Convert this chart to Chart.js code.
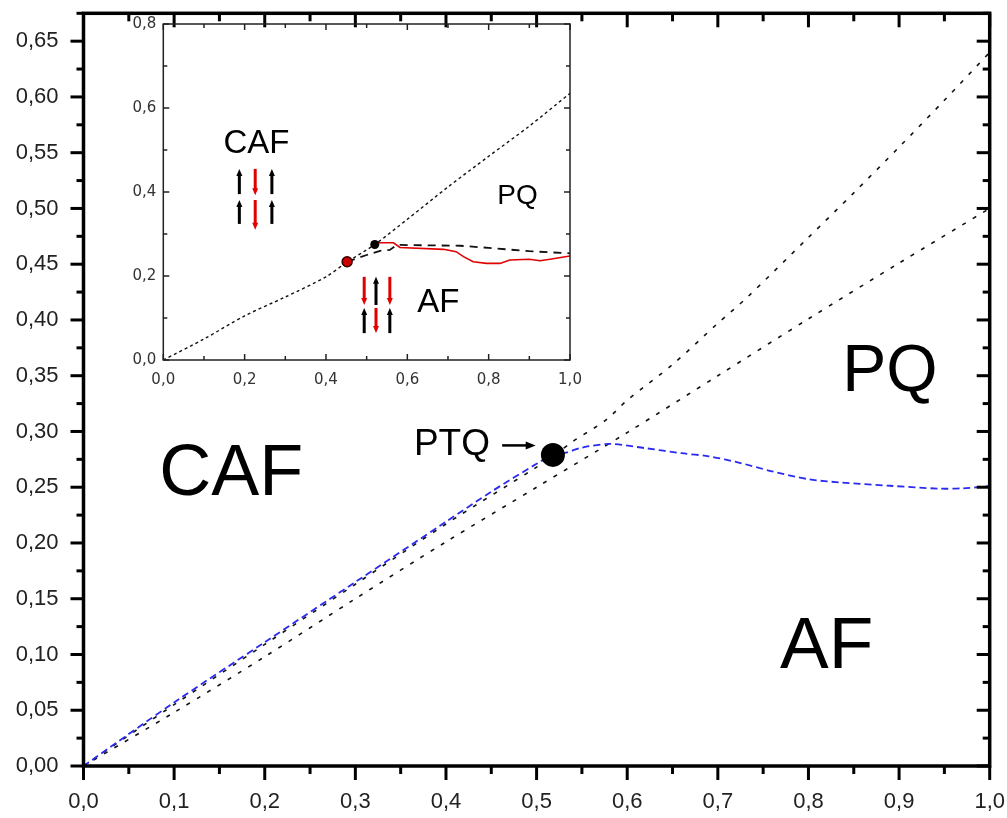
<!DOCTYPE html>
<html><head><meta charset="utf-8">
<script src="https://cdn.jsdelivr.net/npm/chart.js@4/dist/chart.umd.min.js"></script>
<style>
html,body{margin:0;padding:0;background:#fff;}
#wrap{position:relative;width:1007px;height:818px;overflow:hidden;}
#main{position:absolute;left:0;top:0;}
#inset{position:absolute;left:110px;top:14px;}
</style></head><body>
<div id="wrap"><canvas id="main" width="1007" height="818"></canvas><canvas id="inset" width="480" height="386"></canvas></div>
<script>
// ---------------- data: main chart ----------------
const mainXTickValues = [0, 0.1, 0.2, 0.3, 0.4, 0.5, 0.6, 0.7, 0.8, 0.9, 1.0];
const mainXTickLabels = ['0,0','0,1','0,2','0,3','0,4','0,5','0,6','0,7','0,8','0,9','1,0'];
const mainXMinor = [0.05, 0.15, 0.25, 0.35, 0.45, 0.55, 0.65, 0.75, 0.85, 0.95];
const mainYTickValues = [0, 0.05, 0.10, 0.15, 0.20, 0.25, 0.30, 0.35, 0.40, 0.45, 0.50, 0.55, 0.60, 0.65];
const mainYTickLabels = ['0,00','0,05','0,10','0,15','0,20','0,25','0,30','0,35','0,40','0,45','0,50','0,55','0,60','0,65'];
const mainYMinor = [0.025, 0.075, 0.125, 0.175, 0.225, 0.275, 0.325, 0.375, 0.425, 0.475, 0.525, 0.575, 0.625, 0.675];

// upper black dashed boundary (CAF / PQ)
const upperX = [0, 0.1, 0.2, 0.3, 0.4, 0.5, 0.52, 0.54, 0.577, 0.6, 0.65, 0.7, 0.732, 0.8, 0.85, 0.9, 0.95, 1.0];
const upperY = [0, 0.055, 0.109, 0.163, 0.217, 0.268, 0.279, 0.291, 0.3106, 0.328, 0.360, 0.397, 0.420, 0.474, 0.514, 0.555, 0.597, 0.640];
// lower black dashed line
const lowerX = [0, 0.1, 0.2, 0.3, 0.4, 0.5, 0.6, 0.7, 0.8, 0.9, 1.0];
const lowerY = [0, 0.048, 0.098, 0.150, 0.201, 0.250, 0.299, 0.350, 0.401, 0.451, 0.500];
// blue dashed boundary
const blueX = [0, 0.1, 0.2, 0.3, 0.4, 0.45, 0.5, 0.52, 0.531, 0.55, 0.581, 0.62, 0.66, 0.69, 0.725, 0.76, 0.8, 0.835, 0.89, 0.945, 0.97, 1.0];
const blueY = [0, 0.057, 0.111, 0.165, 0.219, 0.246, 0.271, 0.280, 0.2807, 0.2855, 0.2888, 0.285, 0.2805, 0.2777, 0.2717, 0.2642, 0.2572, 0.2543, 0.2513, 0.2487, 0.249, 0.251];
// PTQ point
const ptqX = [0.518];
const ptqY = [0.279];
// main annotations (text anchor: centre x, baseline y)
const mainTexts = ['CAF', 'PQ', 'AF', 'PTQ'];
const mainTextX = [0.163, 0.890, 0.820, 0.4066];
const mainTextY = [0.2433, 0.3366, 0.088, 0.279];
// PTQ pointer arrow (from -> to)
const ptqArrowX = [0.462, 0.499];
const ptqArrowY = [0.2875, 0.2875];

// ---------------- data: inset ----------------
const insetXTickValues = [0, 0.2, 0.4, 0.6, 0.8, 1.0];
const insetXTickLabels = ['0,0','0,2','0,4','0,6','0,8','1,0'];
const insetXMinor = [0.1, 0.3, 0.5, 0.7, 0.9];
const insetYTickValues = [0, 0.2, 0.4, 0.6, 0.8];
const insetYTickLabels = ['0,0','0,2','0,4','0,6','0,8'];
const insetYMinor = [0.1, 0.3, 0.5, 0.7];

const insetUpperX = [0, 0.1, 0.2, 0.3, 0.4, 0.45, 0.52, 0.6, 0.7, 0.8, 0.9, 1.0];
const insetUpperY = [0, 0.050, 0.105, 0.150, 0.198, 0.232, 0.275, 0.335, 0.412, 0.485, 0.557, 0.635];
const insetLowerX = [0.452, 0.50, 0.533, 0.557, 0.574, 0.65, 0.73, 0.80, 0.85, 0.90, 0.96, 1.0];
const insetLowerY = [0.234, 0.250, 0.260, 0.262, 0.274, 0.273, 0.272, 0.267, 0.263, 0.259, 0.256, 0.254];
const insetRedX = [0.52, 0.525, 0.566, 0.582, 0.689, 0.72, 0.738, 0.762, 0.795, 0.828, 0.852, 0.90, 0.926, 0.951, 1.0];
const insetRedY = [0.275, 0.279, 0.279, 0.268, 0.2635, 0.258, 0.246, 0.234, 0.230, 0.230, 0.238, 0.240, 0.2365, 0.240, 0.2476];
const insetBlackDotX = [0.52];
const insetBlackDotY = [0.275];
const insetRedDotX = [0.452];
const insetRedDotY = [0.234];
const insetTexts = ['CAF', 'PQ', 'AF'];
const insetTextX = [0.229, 0.871, 0.676];
const insetTextY = [0.492, 0.371, 0.115];
// spin arrows: x, bottom y, top y, direction (1 up, -1 down)
const spinX   = [0.187, 0.226, 0.267, 0.187, 0.226, 0.267, 0.494, 0.523, 0.557, 0.494, 0.523, 0.557];
const spinYLo = [0.395, 0.392, 0.395, 0.324, 0.310, 0.324, 0.131, 0.131, 0.131, 0.064, 0.064, 0.064];
const spinYHi = [0.455, 0.455, 0.455, 0.381, 0.381, 0.381, 0.198, 0.198, 0.198, 0.124, 0.124, 0.124];
const spinDir = [1, -1, 1, 1, -1, 1, -1, 1, -1, 1, -1, 1];

// ---------------- helpers ----------------
const zip = (xs, ys) => xs.map((v, i) => ({x: v, y: ys[i]}));
const noPad = s => { s.paddingTop = 0; s.paddingBottom = 0; s.paddingLeft = 0; s.paddingRight = 0; };

function arrowHead(ctx, x1, y1, x2, y2, len, half) {
  const a = Math.atan2(y2 - y1, x2 - x1);
  ctx.beginPath();
  ctx.moveTo(x2, y2);
  ctx.lineTo(x2 - len * Math.cos(a) + half * Math.sin(a), y2 - len * Math.sin(a) - half * Math.cos(a));
  ctx.lineTo(x2 - len * Math.cos(a) - half * Math.sin(a), y2 - len * Math.sin(a) + half * Math.cos(a));
  ctx.closePath();
  ctx.fill();
}

const frameTicks = {
  id: 'frameTicks',
  afterDraw(chart, args, o) {
    const {ctx, chartArea: a, scales: {x, y}} = chart;
    ctx.save();
    ctx.strokeStyle = o.color; ctx.lineCap = 'butt';
    const seg = (x1, y1, x2, y2) => { ctx.beginPath(); ctx.moveTo(x1, y1); ctx.lineTo(x2, y2); ctx.stroke(); };
    ctx.lineWidth = o.tickWidth;
    const doX = (vals, k) => vals.forEach(v => {
      const p = x.getPixelForValue(v);
      if (o.bottom[k]) seg(p, a.bottom, p, a.bottom + o.bottom[k]);
      if (o.top[k]) seg(p, a.top, p, a.top + o.top[k]);
    });
    const doY = (vals, k) => vals.forEach(v => {
      const p = y.getPixelForValue(v);
      if (o.left[k]) seg(a.left, p, a.left + o.left[k], p);
      if (o.right[k]) seg(a.right, p, a.right + o.right[k], p);
    });
    doX(o.xMajor, 0); doX(o.xMinor, 1); doY(o.yMajor, 0); doY(o.yMinor, 1);
    ctx.lineWidth = o.frameWidth;
    ctx.strokeRect(a.left, a.top, a.right - a.left, a.bottom - a.top);
    ctx.restore();
  }
};

const mainAnno = {
  id: 'mainAnno',
  afterDatasetsDraw(chart) {
    const {ctx, scales: {x, y}} = chart;
    const sizes = [72, 66, 73, 37];
    ctx.save();
    ctx.fillStyle = '#000';
    ctx.textAlign = 'center'; ctx.textBaseline = 'alphabetic';
    mainTexts.forEach((t, i) => {
      ctx.font = sizes[i] + 'px "Liberation Sans", Arial, sans-serif';
      ctx.fillText(t, x.getPixelForValue(mainTextX[i]), y.getPixelForValue(mainTextY[i]));
    });
    const x1 = x.getPixelForValue(ptqArrowX[0]), y1 = y.getPixelForValue(ptqArrowY[0]);
    const x2 = x.getPixelForValue(ptqArrowX[1]), y2 = y.getPixelForValue(ptqArrowY[1]);
    ctx.strokeStyle = '#000'; ctx.lineWidth = 2.5;
    ctx.beginPath(); ctx.moveTo(x1, y1); ctx.lineTo(x2 - 6, y2); ctx.stroke();
    arrowHead(ctx, x1, y1, x2, y2, 10, 4);
    ctx.restore();
  }
};

const insetAnno = {
  id: 'insetAnno',
  afterDatasetsDraw(chart) {
    const {ctx, scales: {x, y}} = chart;
    const sizes = [33, 28, 33];
    ctx.save();
    ctx.fillStyle = '#000';
    ctx.textAlign = 'center'; ctx.textBaseline = 'alphabetic';
    insetTexts.forEach((t, i) => {
      ctx.font = sizes[i] + 'px "Liberation Sans", Arial, sans-serif';
      ctx.fillText(t, x.getPixelForValue(insetTextX[i]), y.getPixelForValue(insetTextY[i]));
    });
    spinX.forEach((sx, i) => {
      const px = x.getPixelForValue(sx);
      const lo = y.getPixelForValue(spinYLo[i]), hi = y.getPixelForValue(spinYHi[i]);
      const up = spinDir[i] === 1;
      const col = up ? '#000' : '#e00000';
      ctx.strokeStyle = col; ctx.fillStyle = col; ctx.lineWidth = 3;
      const tail = up ? lo : hi, head = up ? hi : lo;
      const hs = up ? 5 : -5;
      ctx.beginPath(); ctx.moveTo(px, tail); ctx.lineTo(px, head + hs); ctx.stroke();
      arrowHead(ctx, px, tail, px, head, 7, 3);
    });
    ctx.restore();
  }
};

// ---------------- main chart ----------------
new Chart(document.getElementById('main'), {
  type: 'line',
  data: {
    datasets: [
      {data: zip(ptqX, ptqY), showLine: false, pointRadius: 12, pointBackgroundColor: '#000', pointBorderWidth: 0, order: 0},
      {data: zip(blueX, blueY), borderColor: '#2a2af0', borderWidth: 1.8, borderDash: [7, 4], pointRadius: 0, tension: 0.3, order: 1},
      {data: zip(upperX, upperY), borderColor: '#111', borderWidth: 1.6, borderDash: [4, 8], pointRadius: 0, tension: 0.3, order: 2},
      {data: zip(lowerX, lowerY), borderColor: '#111', borderWidth: 1.6, borderDash: [4, 8], pointRadius: 0, tension: 0.3, order: 3}
    ]
  },
  options: {
    responsive: false, animation: false, devicePixelRatio: 1,
    layout: {autoPadding: false, padding: {left: 0, right: 17.3, top: 13.3, bottom: 0}},
    plugins: {
      legend: {display: false}, tooltip: {enabled: false},
      frameTicks: {color: '#000', frameWidth: 3.5, tickWidth: 3,
        xMajor: mainXTickValues, xMinor: mainXMinor, yMajor: mainYTickValues, yMinor: mainYMinor,
        bottom: [14, 8], top: [14, 8], left: [-13, -7], right: [-13, -7]}
    },
    scales: {
      x: {type: 'linear', min: 0, max: 1,
        afterBuildTicks: s => { s.ticks = mainXTickValues.map(v => ({value: v})); },
        afterFit: s => { s.height = 52; noPad(s); },
        grid: {display: false, drawTicks: false}, border: {display: false},
        ticks: {callback: (v, i) => mainXTickLabels[i], autoSkip: false, maxRotation: 0, padding: 23, color: '#222',
          font: {family: '"Liberation Sans Narrow", "Liberation Sans", Arial, sans-serif', size: 22}}},
      y: {type: 'linear', min: 0, max: 0.675,
        afterBuildTicks: s => { s.ticks = mainYTickValues.map(v => ({value: v})); },
        afterFit: s => { s.width = 83.5; noPad(s); },
        grid: {display: false, drawTicks: false}, border: {display: false},
        ticks: {callback: (v, i) => mainYTickLabels[i], autoSkip: false, padding: 25, color: '#222',
          font: {family: '"Liberation Sans", Arial, sans-serif', size: 22}}}
    }
  },
  plugins: [frameTicks, mainAnno]
});

// ---------------- inset chart ----------------
new Chart(document.getElementById('inset'), {
  type: 'line',
  data: {
    datasets: [
      {data: zip(insetBlackDotX, insetBlackDotY), showLine: false, pointRadius: 4.5, pointBackgroundColor: '#000', pointBorderWidth: 0, order: 0},
      {data: zip(insetRedDotX, insetRedDotY), showLine: false, pointRadius: 5, pointBackgroundColor: '#c00', pointBorderColor: '#300', pointBorderWidth: 1.5, order: 0},
      {data: zip(insetRedX, insetRedY), borderColor: '#e00000', borderWidth: 1.6, pointRadius: 0, tension: 0, order: 1},
      {data: zip(insetUpperX, insetUpperY), borderColor: '#111', borderWidth: 1.4, borderDash: [3, 3], pointRadius: 0, tension: 0.3, order: 2},
      {data: zip(insetLowerX, insetLowerY), borderColor: '#111', borderWidth: 1.8, borderDash: [8, 6], pointRadius: 0, tension: 0, order: 2}
    ]
  },
  options: {
    responsive: false, animation: false, devicePixelRatio: 1,
    layout: {autoPadding: false, padding: {left: 0, right: 20, top: 10, bottom: 0}},
    plugins: {
      legend: {display: false}, tooltip: {enabled: false},
      frameTicks: {color: '#222', frameWidth: 1.5, tickWidth: 1.5,
        xMajor: insetXTickValues, xMinor: insetXMinor, yMajor: insetYTickValues, yMinor: insetYMinor,
        bottom: [-6, -4], top: [6, 4], left: [6, 4], right: [-6, -4]}
    },
    scales: {
      x: {type: 'linear', min: 0, max: 1,
        afterBuildTicks: s => { s.ticks = insetXTickValues.map(v => ({value: v})); },
        afterFit: s => { s.height = 40; noPad(s); },
        grid: {display: false, drawTicks: false}, border: {display: false},
        ticks: {callback: (v, i) => insetXTickLabels[i], autoSkip: false, maxRotation: 0, padding: 11, color: '#333',
          font: {family: '"DejaVu Sans", sans-serif', size: 15}}},
      y: {type: 'linear', min: 0, max: 0.8,
        afterBuildTicks: s => { s.ticks = insetYTickValues.map(v => ({value: v})); },
        afterFit: s => { s.width = 53.3; noPad(s); },
        grid: {display: false, drawTicks: false}, border: {display: false},
        ticks: {callback: (v, i) => insetYTickLabels[i], autoSkip: false, padding: 7, color: '#333',
          font: {family: '"DejaVu Sans", sans-serif', size: 15}}}
    }
  },
  plugins: [frameTicks, insetAnno]
});
</script>
</body></html>
